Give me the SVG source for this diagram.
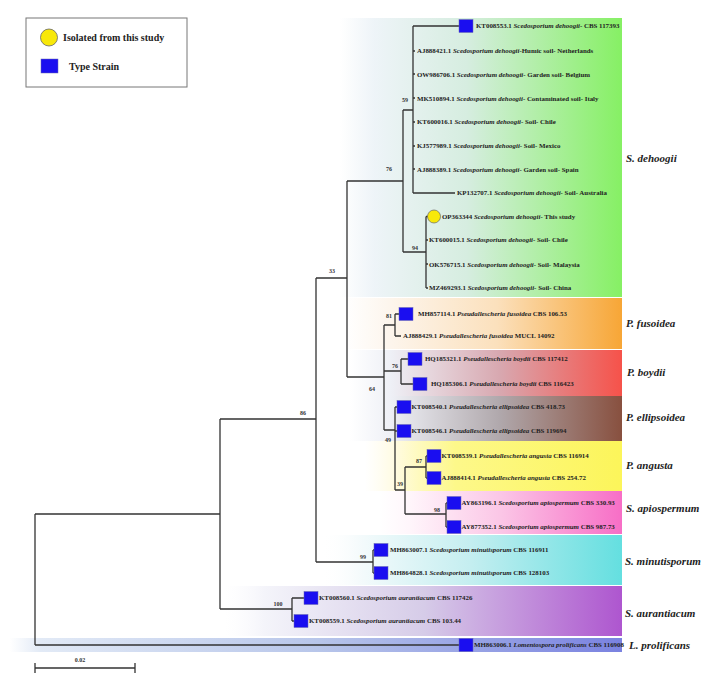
<svg xmlns="http://www.w3.org/2000/svg" width="706" height="682" viewBox="0 0 706 682">
<style>
.lf{font-family:"Liberation Serif",serif;font-size:6.9px;font-weight:bold;fill:#222}
.lf tspan.i{font-style:italic}
.bs{font-family:"Liberation Serif",serif;font-size:6px;font-weight:bold;fill:#333;text-anchor:middle}
.cl{font-family:"Liberation Serif",serif;font-size:11px;font-weight:bold;font-style:italic;fill:#222}
.br{fill:none;stroke:#333;stroke-width:1.3}
.ts{fill:#1a0ef0;stroke:#6a6ab0;stroke-width:0.5}
.lg{font-family:"Liberation Serif",serif;font-size:10px;font-weight:bold;fill:#222}
</style>
<defs>
<linearGradient id="gDe" x1="0" y1="0" x2="1" y2="0"><stop offset="0" stop-color="#eef4f8" stop-opacity="0"/><stop offset="0.12" stop-color="#eef4f8"/><stop offset="0.45" stop-color="#d6ede0"/><stop offset="1" stop-color="#86f064"/></linearGradient>
<linearGradient id="gFu" x1="0" y1="0" x2="1" y2="0"><stop offset="0" stop-color="#fdf6ee" stop-opacity="0"/><stop offset="0.15" stop-color="#fdf6ee"/><stop offset="0.55" stop-color="#fbe0bc"/><stop offset="1" stop-color="#f7a636"/></linearGradient>
<linearGradient id="gBo" x1="0" y1="0" x2="1" y2="0"><stop offset="0" stop-color="#eef0f6" stop-opacity="0"/><stop offset="0.15" stop-color="#eef0f6"/><stop offset="0.55" stop-color="#d8a8b0"/><stop offset="1" stop-color="#f6524a"/></linearGradient>
<linearGradient id="gEl" x1="0" y1="0" x2="1" y2="0"><stop offset="0" stop-color="#eef0f6" stop-opacity="0"/><stop offset="0.15" stop-color="#eef0f6"/><stop offset="0.55" stop-color="#b0a8ac"/><stop offset="1" stop-color="#88503f"/></linearGradient>
<linearGradient id="gAn" x1="0" y1="0" x2="1" y2="0"><stop offset="0" stop-color="#fffbe8" stop-opacity="0"/><stop offset="0.12" stop-color="#fffbe0"/><stop offset="0.35" stop-color="#fdf88a"/><stop offset="1" stop-color="#fcf55a"/></linearGradient>
<linearGradient id="gAp" x1="0" y1="0" x2="1" y2="0"><stop offset="0" stop-color="#fff6fb" stop-opacity="0"/><stop offset="0.12" stop-color="#fff6fb"/><stop offset="0.5" stop-color="#fbc6e6"/><stop offset="1" stop-color="#f76ec6"/></linearGradient>
<linearGradient id="gMi" x1="0" y1="0" x2="1" y2="0"><stop offset="0" stop-color="#ffffff" stop-opacity="0"/><stop offset="0.12" stop-color="#f6fbfc"/><stop offset="0.5" stop-color="#c4eef0"/><stop offset="1" stop-color="#64dfe0"/></linearGradient>
<linearGradient id="gAu" x1="0" y1="0" x2="1" y2="0"><stop offset="0" stop-color="#fafafd" stop-opacity="0"/><stop offset="0.1" stop-color="#f4f4fa"/><stop offset="0.5" stop-color="#d6cce8"/><stop offset="1" stop-color="#ae56cf"/></linearGradient>
<linearGradient id="gPr" x1="0" y1="0" x2="1" y2="0"><stop offset="0" stop-color="#e2eaf6" stop-opacity="0"/><stop offset="0.05" stop-color="#e2eaf6"/><stop offset="0.5" stop-color="#b8c6ea"/><stop offset="1" stop-color="#7a82e0"/></linearGradient>
</defs>
<rect width="706" height="682" fill="#ffffff"/>

<g id="clade-backgrounds">
<rect x="340" y="18" width="282" height="279" fill="url(#gDe)"/>
<rect x="345" y="298" width="277" height="51" fill="url(#gFu)"/>
<rect x="350" y="350" width="272" height="46" fill="url(#gBo)"/>
<rect x="350" y="396" width="272" height="45" fill="url(#gEl)"/>
<rect x="365" y="441" width="257" height="50" fill="url(#gAn)"/>
<rect x="380" y="491" width="242" height="43" fill="url(#gAp)"/>
<rect x="320" y="535" width="302" height="50" fill="url(#gMi)"/>
<rect x="225" y="586" width="397" height="50" fill="url(#gAu)"/>
<rect x="10" y="638" width="612" height="14" fill="url(#gPr)"/>
</g>

<g id="legend">
<rect x="26" y="18" width="161" height="69" fill="#ffffff" stroke="#777" stroke-width="1"/>
<circle cx="49" cy="37.5" r="8.5" fill="#f8e80a" stroke="#666" stroke-width="0.8"/>
<text class="lg" x="63" y="41">Isolated from this study</text>
<rect x="41" y="59" width="17" height="14" fill="#1a0ef0" stroke="#6a6ab0" stroke-width="0.5"/>
<text class="lg" x="69" y="70">Type Strain</text>
</g>

<g id="connectors">
<path class="br" d="M35,514 V645 M35,514 H220 M35,645 H459"/>
<path class="br" d="M220,419 V609 M220,419 H316 M220,609 H292"/>
<path class="br" d="M292,598 V621 M292,598 H304 M292,621 H294"/>
<path class="br" d="M316,278 V562 M316,278 H347 M316,562 H373"/>
<path class="br" d="M373,550 V573 M373,550 H374 M373,573 H374"/>
<path class="br" d="M347,181 V377 M347,181 H403 M347,377 H384"/>
<path class="br" d="M403,110 V252 M403,110 H413 M403,252 H426"/>
<path class="br" d="M413,26 V193 M413,26 H459 M413,193 H455 M413,51 H415 M413,74 H415 M413,98 H415 M413,122 H415 M413,146 H415 M413,169 H415"/>
<path class="br" d="M426,216.5 V288 M426,216.5 H428 M426,240 H428 M426,264 H428 M426,288 H428"/>
<path class="br" d="M384,325 V430 M384,325 H395 M384,371 H401 M384,430 H395"/>
<path class="br" d="M395,314 V336 M395,314 H399 M395,336 H401"/>
<path class="br" d="M401,359 V384 M401,359 H408 M401,384 H413"/>
<path class="br" d="M395,407 V490 M395,407 H397 M395,431 H397 M395,490 H405"/>
<path class="br" d="M405,467 V514 M405,467 H426 M405,514 H446"/>
<path class="br" d="M426,456 V478 M426,456 H427 M426,478 H427"/>
<path class="br" d="M446,503 V527 M446,503 H447 M446,527 H447"/>
</g>

<g id="bootstrap">
<text class="bs" x="405" y="102">59</text>
<text class="bs" x="389" y="171">76</text>
<text class="bs" x="415" y="250">94</text>
<text class="bs" x="332" y="273">33</text>
<text class="bs" x="303" y="415">86</text>
<text class="bs" x="389" y="318">81</text>
<text class="bs" x="395" y="368">76</text>
<text class="bs" x="372" y="391">64</text>
<text class="bs" x="388" y="442">49</text>
<text class="bs" x="419" y="463">87</text>
<text class="bs" x="400" y="486">39</text>
<text class="bs" x="437" y="512">98</text>
<text class="bs" x="363" y="559">99</text>
<text class="bs" x="278" y="606">100</text>
</g>

<g id="leaf-KT008553"><rect class="ts" x="459" y="19.5" width="14" height="13"/><text class="lf" x="476" y="28.4">KT008553.1 <tspan class="i">Scedosporium dehoogii</tspan>- CBS 117393</text></g>
<g id="leaf-AJ888421"><text class="lf" x="417" y="53.1">AJ888421.1 <tspan class="i">Scedosporium dehoogii</tspan>-Humic soil- Netherlands</text></g>
<g id="leaf-OW986706"><text class="lf" x="417" y="76.7">OW986706.1 <tspan class="i">Scedosporium dehoogii</tspan>- Garden soil- Belgium</text></g>
<g id="leaf-MK510894"><text class="lf" x="417" y="100.7">MK510894.1 <tspan class="i">Scedosporium dehoogii</tspan>- Contaminated soil- Italy</text></g>
<g id="leaf-KT600016"><text class="lf" x="417" y="124.1">KT600016.1 <tspan class="i">Scedosporium dehoogii</tspan>- Soil- Chile</text></g>
<g id="leaf-KJ577989"><text class="lf" x="417" y="148.1">KJ577989.1 <tspan class="i">Scedosporium dehoogii</tspan>- Soil- Mexico</text></g>
<g id="leaf-AJ888389"><text class="lf" x="417" y="171.7">AJ888389.1 <tspan class="i">Scedosporium dehoogii</tspan>- Garden soil- Spain</text></g>
<g id="leaf-KP132707"><text class="lf" x="457" y="195.1">KP132707.1 <tspan class="i">Scedosporium dehoogii</tspan>- Soil- Australia</text></g>
<g id="leaf-OP363344"><circle cx="434" cy="216.5" r="6.5" fill="#f8e80a" stroke="#666" stroke-width="0.7"/><text class="lf" x="442" y="219">OP363344 <tspan class="i">Scedosporium dehoogii</tspan>- This study</text></g>
<g id="leaf-KT600015"><text class="lf" x="429" y="242.4">KT600015.1 <tspan class="i">Scedosporium dehoogii</tspan>- Soil- Chile</text></g>
<g id="leaf-OK576715"><text class="lf" x="429" y="266.7">OK576715.1 <tspan class="i">Scedosporium dehoogii</tspan>- Soil- Malaysia</text></g>
<g id="leaf-MZ469293"><text class="lf" x="429" y="290.1">MZ469293.1 <tspan class="i">Scedosporium dehoogii</tspan>- Soil- China</text></g>

<g id="leaf-MH857114"><rect class="ts" x="399" y="307.5" width="14" height="13"/><text class="lf" x="418" y="316.4">MH857114.1 <tspan class="i">Pseudallescheria fusoidea</tspan> CBS 106.53</text></g>
<g id="leaf-AJ888429"><text class="lf" x="403" y="338.4">AJ888429.1 <tspan class="i">Pseudallescheria fusoidea</tspan> MUCL 14092</text></g>
<g id="leaf-HQ185321"><rect class="ts" x="408" y="352.5" width="14" height="13"/><text class="lf" x="425" y="361.4">HQ185321.1 <tspan class="i">Pseudallescheria boydii</tspan> CBS 117412</text></g>
<g id="leaf-HQ185306"><rect class="ts" x="413" y="377.5" width="14" height="13"/><text class="lf" x="431" y="386.4">HQ185306.1 <tspan class="i">Pseudallescheria boydii</tspan> CBS 116423</text></g>
<g id="leaf-KT008540"><rect class="ts" x="397" y="400.5" width="14" height="13"/><text class="lf" x="411.5" y="409.4">KT008540.1 <tspan class="i">Pseudallescheria ellipsoidea</tspan> CBS 418.73</text></g>
<g id="leaf-KT008546"><rect class="ts" x="397" y="424.5" width="14" height="13"/><text class="lf" x="411.5" y="433.4">KT008546.1 <tspan class="i">Pseudallescheria ellipsoidea</tspan> CBS 119694</text></g>
<g id="leaf-KT008539"><rect class="ts" x="427" y="449.5" width="14" height="13"/><text class="lf" x="441.5" y="458.4">KT008539.1 <tspan class="i">Pseudallescheria angusta</tspan> CBS 116914</text></g>
<g id="leaf-AJ888414"><rect class="ts" x="427" y="471.5" width="14" height="13"/><text class="lf" x="441.5" y="480.4">AJ888414.1 <tspan class="i">Pseudallescheria angusta</tspan> CBS 254.72</text></g>
<g id="leaf-AY863196"><rect class="ts" x="447" y="496.5" width="14" height="13"/><text class="lf" x="461.5" y="505.4">AY863196.1 <tspan class="i">Scedosporium apiospermum</tspan> CBS 330.93</text></g>
<g id="leaf-AY877352"><rect class="ts" x="447" y="520.5" width="14" height="13"/><text class="lf" x="461.5" y="529.4">AY877352.1 <tspan class="i">Scedosporium apiospermum</tspan> CBS 987.73</text></g>
<g id="leaf-MH863007"><rect class="ts" x="374" y="543.5" width="14" height="13"/><text class="lf" x="390" y="552.4">MH863007.1 <tspan class="i">Scedosporium minutisporum</tspan> CBS 116911</text></g>
<g id="leaf-MH864828"><rect class="ts" x="374" y="566.5" width="14" height="13"/><text class="lf" x="390" y="575.4">MH864828.1 <tspan class="i">Scedosporium minutisporum</tspan> CBS 128103</text></g>
<g id="leaf-KT008560"><rect class="ts" x="304" y="591.5" width="14" height="13"/><text class="lf" x="319" y="600.4">KT008560.1 <tspan class="i">Scedosporium aurantiacum</tspan> CBS 117426</text></g>
<g id="leaf-KT008559"><rect class="ts" x="294" y="614.5" width="14" height="13"/><text class="lf" x="309" y="623.4">KT008559.1 <tspan class="i">Scedosporium aurantiacum</tspan> CBS 103.44</text></g>
<g id="leaf-MH863006"><rect class="ts" x="459" y="638.5" width="14" height="13"/><text class="lf" x="474" y="647.4">MH863006.1 <tspan class="i">Lomentospora prolificans</tspan> CBS 116908</text></g>

<g id="clade-labels">
<text class="cl" x="626" y="162">S. dehoogii</text>
<text class="cl" x="626" y="327">P. fusoidea</text>
<text class="cl" x="627" y="376">P. boydii</text>
<text class="cl" x="626" y="421">P. ellipsoidea</text>
<text class="cl" x="626" y="469">P. angusta</text>
<text class="cl" x="626" y="512">S. apiospermum</text>
<text class="cl" x="625" y="565">S. minutisporum</text>
<text class="cl" x="625" y="617">S. aurantiacum</text>
<text class="cl" x="629" y="649">L. prolificans</text>
</g>

<g id="scale-bar">
<path class="br" d="M35,668 H135 M35,663 V673 M135,663 V673"/>
<text class="bs" x="80" y="662">0.02</text>
</g>
</svg>
